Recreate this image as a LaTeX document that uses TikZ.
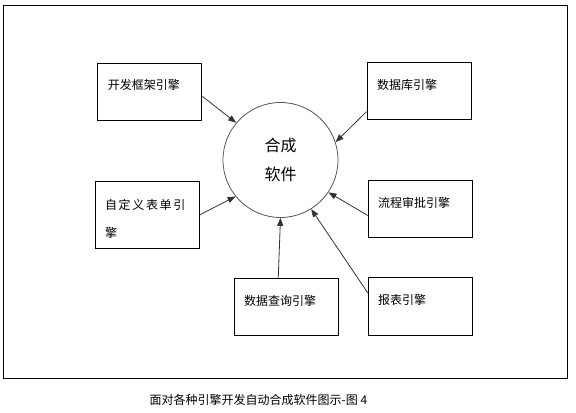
\documentclass[tikz,border=0pt]{standalone}
\usepackage{fontspec}
\setmainfont{Noto Sans CJK SC}
\usetikzlibrary{arrows.meta}
\definecolor{RingGray}{HTML}{555555}
\definecolor{ArrowGray}{HTML}{333333}

\begin{document}
\begin{tikzpicture}[x=0.75pt, y=-0.75pt, >={Triangle[length=6pt,width=4.5pt]},
    box/.style={draw, line width=0.75pt, rectangle, anchor=north west, align=left,
        text width=63pt, inner xsep=7.5pt, inner ysep=0pt,
        text height=20pt, text depth=22.75pt,
        font=\fontsize{9pt}{21.5pt}\selectfont},
    hub/.style={draw=RingGray, line width=0.6pt, circle, minimum size=86.25pt,
        align=center, font=\fontsize{12pt}{21.75pt}\selectfont},
    feed/.style={->, ArrowGray, line width=0.6pt}]
    % Page size
    \useasboundingbox (0,0) rectangle (576,413);

    % Outer frame
    \draw[line width=0.75pt] (3.3,5.3) rectangle (567,379);

    % Centre: the composed software
    \node[hub] (soft) at (280.5,160) {合成\\软件};

    % Engines
    \node[box] (fw) at (97.3,62.7) {开发框架引擎};
    \node[box] (db) at (366.5,62.5) {数据库引擎};
    \node[box, text height=20.7pt, text depth=29.55pt] (form) at (94.5,181)
        {\addfontfeature{LetterSpace=14}自定义表单引\\擎};
    \node[box] (flow) at (367.7,180) {流程审批引擎};
    \node[box] (query) at (233.5,278.3) {数据查询引擎};
    \node[box, text depth=23.5pt] (report) at (367.7,277.3) {报表引擎};

    % Arrows into the circle
    \draw[feed] (fw.-5) -- (soft.140);
    \draw[feed] (db.201) -- (soft.18);
    \draw[feed] (form.east) -- (soft.219);
    \draw[feed] (flow.187) -- (soft.-34.5);
    \draw[feed] (query.105) -- (soft.south);
    \draw[feed] (report.165) -- (soft.-58);

    % Caption
    \node[font=\fontsize{9pt}{11pt}\selectfont] (caption) at (258.5,400)
        {面对各种引擎开发自动合成软件图示-图 4};
\end{tikzpicture}
\end{document}
